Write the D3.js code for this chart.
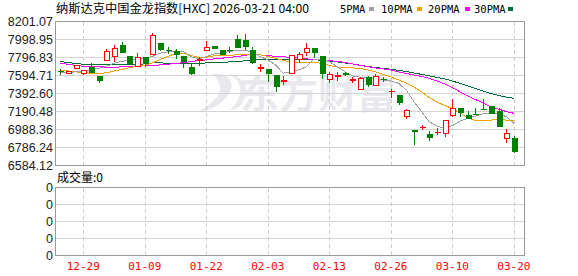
<!DOCTYPE html>
<html>
<head>
<meta charset="utf-8">
<script src="https://cdn.jsdelivr.net/npm/d3@7"></script>
<style>
body { margin: 0; background: #fff; }
svg { display: block; }
</style>
</head>
<body>
<svg width="578" height="276"></svg>
<script>
const title = "纳斯达克中国金龙指数[HXC] 2026-03-21 04:00"

const dates = ["12-23","12-24","12-26","12-29","12-30","12-31","01-02","01-05","01-06","01-07",
    "01-08","01-09","01-12","01-13","01-14","01-15","01-16","01-20","01-21","01-22",
    "01-23","01-26","01-27","01-28","01-29","01-30","02-02","02-03","02-04","02-05",
    "02-06","02-09","02-10","02-11","02-12","02-13","02-17","02-18","02-19","02-20",
    "02-23","02-24","02-25","02-26","02-27","03-02","03-03","03-04","03-05","03-06",
    "03-09","03-10","03-11","03-12","03-13","03-16","03-17","03-18","03-19","03-20"]

const opens = [7641,7622,7668,7612,7685,7582,7762,7807,7937,7806,
    7699,7792,7834,7956,7877,7863,7807,7680,7766,7875,
    7919,7871,7877,8003,7986,7875,7674,7657,7590,7528,
    7612,7770,7849,7894,7807,7553,7584,7618,7541,7440,
    7575,7488,7550,7410,7365,7139,6982,7008,6937,6954,
    6944,7151,7229,7151,7162,7218,7244,7188,6888,6888]
const highs = [7672,7643,7714,7652,7736,7584,7888,7939,7969,7818,
    7845,7798,8071,7961,7911,7890,7815,7725,7804,7986,
    7924,7877,7911,8046,8066,7911,7725,7665,7595,7584,
    7826,7854,7958,7899,7815,7635,7635,7635,7582,7579,
    7590,7607,7578,7443,7370,7224,6987,7038,6976,7010,
    7094,7331,7235,7196,7229,7327,7252,7235,6990,6914]
const lows = [7595,7618,7663,7595,7629,7514,7753,7751,7843,7719,
    7694,7685,7832,7871,7834,7778,7683,7601,7699,7871,
    7899,7826,7845,7905,7877,7725,7638,7517,7413,7488,
    7607,7733,7815,7789,7552,7514,7533,7584,7507,7438,
    7469,7477,7517,7345,7266,7105,6813,6982,6861,6931,
    6906,7134,7131,7105,7151,7213,7162,7015,6835,6726]
const closes = [7637,7638,7702,7646,7629,7533,7869,7903,7852,7725,
    7800,7725,8040,7882,7871,7826,7751,7612,7772,7907,
    7902,7832,7872,7908,7925,7742,7680,7620,7469,7533,
    7815,7826,7896,7854,7620,7601,7590,7601,7548,7562,
    7494,7584,7545,7417,7291,7207,6970,7015,6903,6959,
    7086,7226,7176,7113,7156,7213,7170,7019,6945,6745]

const ma5 = [7627,7629,7635,7649,7657,7676,7697,7733,7753,7770,
    7781,7789,7809,7845,7860,7871,7863,7807,7781,7807,
    7837,7845,7866,7875,7875,7863,7807,7770,7714,7620,
    7638,7657,7691,7778,7778,7751,7694,7638,7590,7575,
    7575,7573,7545,7533,7507,7432,7300,7188,7075,7027,
    7001,7032,7083,7113,7139,7167,7170,7162,7134,7057]
const ma10 = [7657,7646,7635,7627,7620,7620,7624,7646,7663,7683,
    7697,7708,7736,7775,7809,7843,7845,7821,7798,7798,
    7815,7821,7823,7826,7832,7834,7826,7809,7787,7764,
    7744,7744,7744,7744,7730,7708,7691,7685,7680,7674,
    7657,7635,7607,7578,7545,7511,7466,7410,7348,7297,
    7258,7224,7173,7122,7089,7089,7094,7100,7094,7089]
const ma20 = [7733,7721,7708,7699,7694,7694,7688,7688,7691,7699,
    7702,7706,7706,7714,7721,7730,7739,7751,7762,7770,
    7781,7789,7798,7807,7821,7832,7826,7817,7811,7804,
    7800,7792,7781,7775,7770,7762,7753,7742,7725,7708,
    7694,7680,7669,7657,7635,7618,7601,7584,7562,7533,
    7500,7460,7410,7364,7325,7286,7244,7218,7190,7170]
const ma30 = [7751,7742,7730,7721,7719,7719,7719,7719,7719,7719,
    7719,7725,7736,7736,7733,7730,7725,7725,7730,7736,
    7744,7744,7747,7751,7759,7770,7778,7778,7778,7778,
    7778,7778,7775,7772,7766,7759,7747,7736,7725,7710,
    7697,7685,7674,7665,7652,7640,7623,7607,7590,7573,
    7556,7533,7505,7477,7449,7421,7393,7370,7353,7339]

const priceTicks = ["8201.07","7998.95","7796.83","7594.71","7392.60","7190.48","6988.36","6786.24","6584.12"]
const tickDates = ["12-29","01-09","01-22","02-03","02-13","02-26","03-10","03-20"]
const volTicks = [0, 1, 2, 3, 4]
const legendNames = ["5PMA","10PMA","20PMA","30PMA"]
const maColors = ["#a0a0a0","#f0a000","#ff00ff","#006b3a"]

const up = "#ff0000", down = "#008000"
const svg = d3.select("svg")

const x = d3.scalePoint().domain(dates).range([60.2, 513.9])
const y = d3.scaleLinear().domain([6584.12, 8201.07]).range([165.5, 21.5])
const yVol = d3.scaleLinear().domain([0, 4]).range([255.5, 187.5])
const px = v => Math.round(v) + 0.5

// watermark
const wm = svg.append("g").attr("fill", "#e9e9ed")
wm.append("path")
    .attr("d", "M212,74 C232,72 238,86 224,100 C216,108 204,112 198,112 C212,104 220,96 220,88 C220,80 214,76 212,74 Z M228,74 C244,80 244,98 230,110 C240,110 248,98 246,88 C244,80 236,74 228,74 Z")
wm.append("text")
    .attr("x", 240).attr("y", 108)
    .attr("font-family", "Noto Sans CJK SC")
    .attr("font-weight", "bold")
    .attr("font-size", 39)
    .text("东方财富")

// price panel grid
const main = svg.append("g")
main.selectAll("line.h")
    .data(priceTicks)
    .enter()
    .append("line")
    .attr("x1", 55).attr("x2", 525)
    .attr("y1", d => px(y(+d) - 0.5)).attr("y2", d => px(y(+d) - 0.5))
    .attr("stroke", "#d4d4d4")

main.selectAll("line.v")
    .data(tickDates)
    .enter()
    .append("line")
    .attr("x1", d => px(x(d))).attr("x2", d => px(x(d)))
    .attr("y1", 22).attr("y2", 165)
    .attr("stroke", "#cfcfcf")
    .attr("stroke-dasharray", "4,3")

// volume panel grid
const vol = svg.append("g")
vol.selectAll("line.h")
    .data(volTicks)
    .enter()
    .append("line")
    .attr("x1", 55).attr("x2", 525)
    .attr("y1", d => yVol(d)).attr("y2", d => yVol(d))
    .attr("stroke", "#d4d4d4")

vol.selectAll("line.v")
    .data(tickDates)
    .enter()
    .append("line")
    .attr("x1", d => px(x(d))).attr("x2", d => px(x(d)))
    .attr("y1", 188).attr("y2", 255)
    .attr("stroke", "#cfcfcf")
    .attr("stroke-dasharray", "4,3")

// moving averages
const maSeries = [ma5, ma10, ma20, ma30]
const maLine = d3.line().x((d, i) => x(dates[i])).y(d => y(d))
svg.append("g")
    .selectAll("path")
    .data(maSeries.slice().reverse())
    .enter()
    .append("path")
    .attr("d", d => maLine(d))
    .attr("fill", "none")
    .attr("stroke", (d, i) => maColors[3 - i])
    .attr("stroke-width", 1)
    .attr("shape-rendering", "crispEdges")

// candles
const candles = svg.append("g")
    .selectAll("g")
    .data(dates.map((d, i) => ({date: d, o: opens[i], h: highs[i], l: lows[i], c: closes[i]})))
    .enter()
    .append("g")
    .attr("shape-rendering", "crispEdges")

candles.append("line")
    .attr("x1", d => px(x(d.date))).attr("x2", d => px(x(d.date)))
    .attr("y1", d => y(d.h)).attr("y2", d => y(d.l))
    .attr("stroke", d => d.c >= d.o ? up : down)

candles.append("rect")
    .attr("x", d => px(x(d.date)) - 2.5)
    .attr("y", d => y(Math.max(d.o, d.c)))
    .attr("width", 5)
    .attr("height", d => Math.max(0.01, Math.abs(y(d.o) - y(d.c))))
    .attr("fill", d => d.c >= d.o ? "#fff" : down)
    .attr("stroke", d => d.c >= d.o ? up : down)
    .attr("stroke-width", 1)

// frames
svg.append("rect")
    .attr("x", 55.5).attr("y", 21.5).attr("width", 469).attr("height", 144)
    .attr("fill", "none").attr("stroke", "#9a9a9a")
svg.append("rect")
    .attr("x", 55.5).attr("y", 187.5).attr("width", 469).attr("height", 68)
    .attr("fill", "none").attr("stroke", "#9a9a9a")

// y labels
svg.append("g")
    .selectAll("text")
    .data(priceTicks)
    .enter()
    .append("text")
    .attr("x", 53).attr("y", d => y(+d) + 4.5)
    .attr("text-anchor", "end")
    .attr("font-family", "Liberation Sans, Arial")
    .attr("font-size", 12.5)
    .attr("fill", "#222")
    .text(d => d)

svg.append("g")
    .selectAll("text")
    .data(volTicks)
    .enter()
    .append("text")
    .attr("x", 53).attr("y", d => yVol(d) + 4.5)
    .attr("text-anchor", "end")
    .attr("font-family", "Liberation Sans, Arial")
    .attr("font-size", 12.5)
    .attr("fill", "#222")
    .text("0")

// date labels
svg.append("g")
    .selectAll("text")
    .data(tickDates)
    .enter()
    .append("text")
    .attr("x", d => x(d)).attr("y", 270)
    .attr("text-anchor", "middle")
    .attr("font-family", "DejaVu Sans Mono, monospace")
    .attr("font-size", 11)
    .attr("fill", "#ff0000")
    .text(d => d)

// title and legend
svg.append("text")
    .attr("x", 56).attr("y", 13)
    .attr("font-family", "Noto Sans CJK SC")
    .attr("font-size", 12)
    .attr("textLength", 253)
    .attr("lengthAdjust", "spacingAndGlyphs")
    .attr("fill", "#000")
    .text(title)

const legendX = [340, 381, 428, 474]
const legend = svg.append("g")
    .selectAll("g")
    .data(legendNames)
    .enter()
    .append("g")
    .attr("transform", (d, i) => "translate(" + legendX[i] + ",0)")
legend.append("text")
    .attr("y", 13)
    .attr("font-family", "DejaVu Sans Mono, monospace")
    .attr("font-size", 10.5)
    .attr("fill", "#000")
    .text(d => d)
legend.append("rect")
    .attr("x", (d, i) => [29, 36, 37, 34][i])
    .attr("y", 7).attr("width", 5).attr("height", 4)
    .attr("fill", (d, i) => maColors[i])

svg.append("text")
    .attr("x", 57).attr("y", 182)
    .attr("font-family", "Noto Sans CJK SC")
    .attr("font-size", 12)
    .attr("fill", "#000")
    .text("成交量:0")
</script>
</body>
</html>
